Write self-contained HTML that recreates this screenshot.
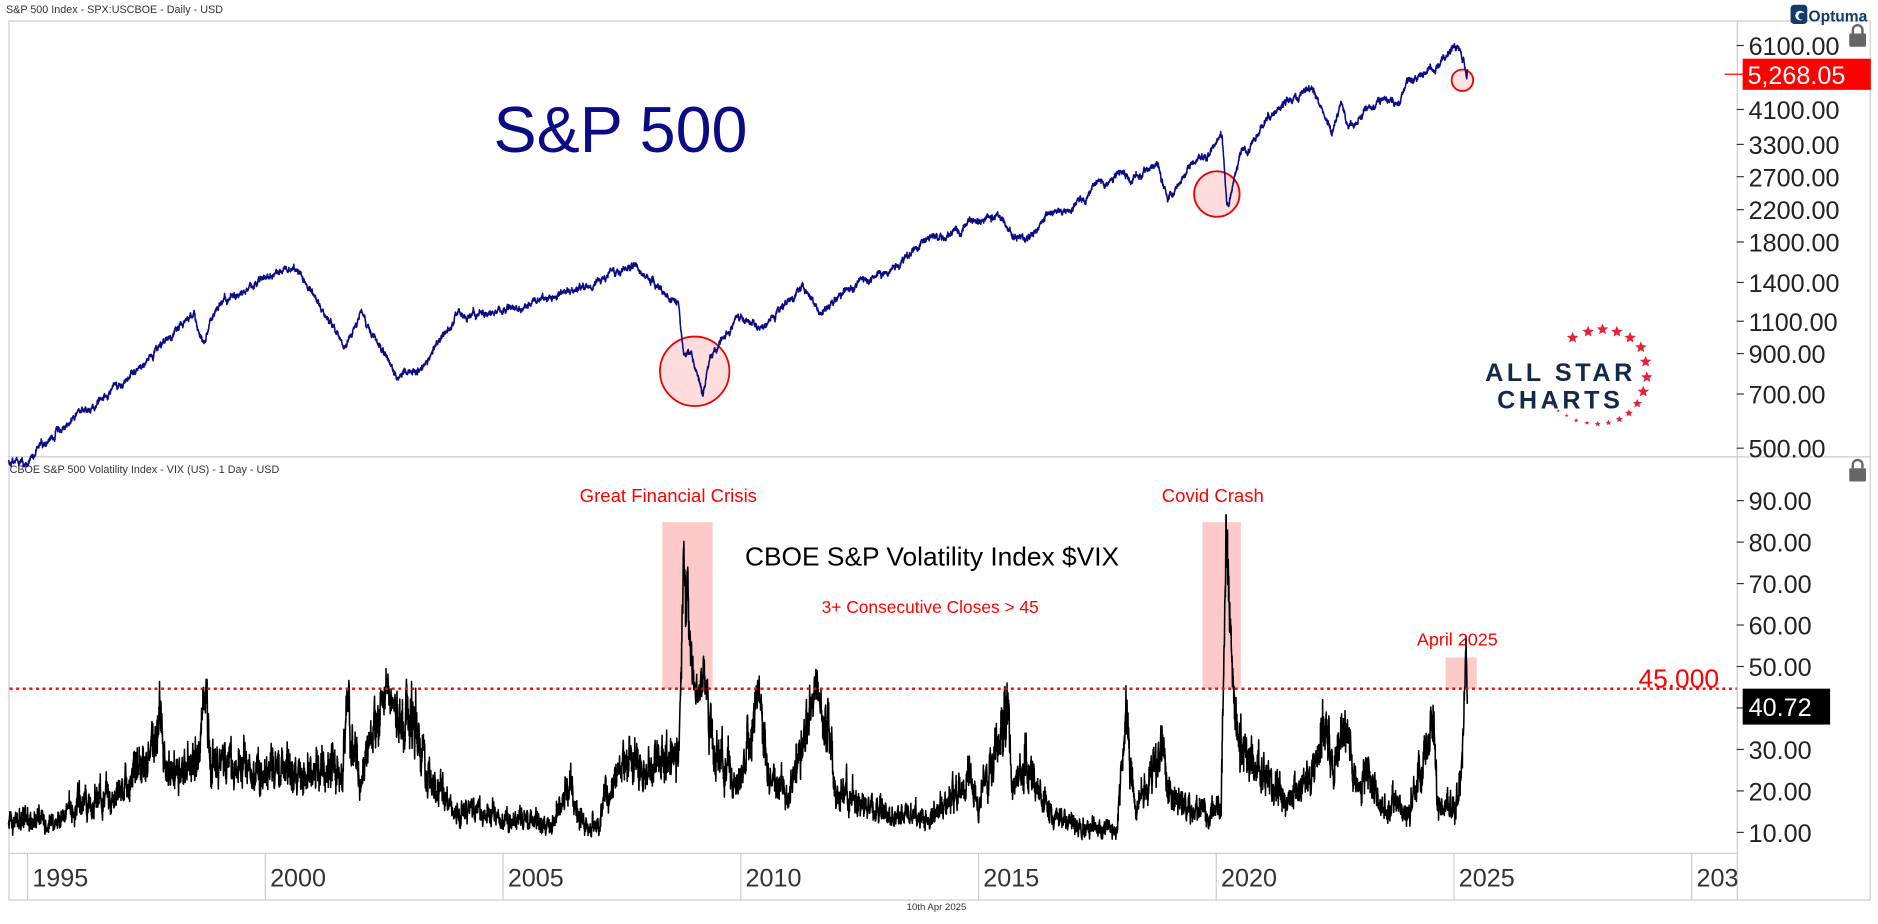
<!DOCTYPE html>
<html><head><meta charset="utf-8"><style>
html,body{margin:0;padding:0;background:#fff;}
svg{display:block;}
text{font-family:"Liberation Sans",sans-serif;}
</style></head><body>
<svg id="s" width="1878" height="924" viewBox="0 0 1568 771.5" preserveAspectRatio="none" xmlns="http://www.w3.org/2000/svg">
<rect width="1568" height="772" fill="#fff"/>
<rect x="7.5" y="17.5" width="1554" height="734" fill="none" stroke="#ccc" stroke-width="1"/>
<line x1="7" y1="381.5" x2="1562" y2="381.5" stroke="#ccc"/>
<line x1="1450.5" y1="18" x2="1450.5" y2="752" stroke="#ccc"/>
<line x1="7" y1="712.5" x2="1450" y2="712.5" stroke="#ccc"/>
<text x="5" y="11" font-size="9" fill="#333">S&amp;P 500 Index - SPX:USCBOE - Daily - USD</text>
<text x="8" y="395" font-size="9" fill="#333">CBOE S&amp;P 500 Volatility Index - VIX (US) - 1 Day - USD</text>
<text x="757" y="760" font-size="8" fill="#333">10th Apr 2025</text>
<rect x="1495" y="4" width="14" height="16" rx="3" fill="#123a6b"/>
<circle cx="1503" cy="13" r="4" fill="#fff"/><circle cx="1504.5" cy="13.5" r="3" fill="#123a6b"/>
<text x="1510" y="18" font-size="13" font-weight="bold" fill="#123a6b">Optuma</text>
<g fill="#666"><rect x="1544" y="28" width="14" height="11" rx="1"/><path d="M1547 28v-3a4 4 0 0 1 8 0v3" fill="none" stroke="#666" stroke-width="2"/>
<rect x="1544" y="391" width="14" height="11" rx="1"/><path d="M1547 391v-3a4 4 0 0 1 8 0v3" fill="none" stroke="#666" stroke-width="2"/></g>
<g id="xg" stroke="#ccc"></g>
<g id="xl" font-size="21" fill="#333"></g>
<g id="ya" font-size="21" fill="#222"></g>
<circle cx="580" cy="310" r="29" fill="rgba(255,120,120,0.25)" stroke="#e00" stroke-width="1.5"/>
<circle cx="1016" cy="162" r="19" fill="rgba(255,120,120,0.25)" stroke="#e00" stroke-width="1.5"/>
<circle cx="1221" cy="67" r="9" fill="rgba(255,120,120,0.2)" stroke="#e00" stroke-width="1.5"/>
<rect x="553" y="436" width="42" height="139" fill="rgba(250,120,120,0.4)"/>
<rect x="1004" y="436" width="32" height="139" fill="rgba(250,120,120,0.4)"/>
<rect x="1207" y="549" width="26" height="26" fill="rgba(250,120,120,0.4)"/>
<path id="spx" fill="none" stroke="#0b0b85" stroke-width="1.3" stroke-linejoin="round"/>
<path id="vix" fill="none" stroke="#000" stroke-width="1.3" stroke-linejoin="round"/>
<line x1="8" y1="575" x2="1450" y2="575" stroke="#f00" stroke-width="2" stroke-dasharray="2.5,3"/>
<text x="412" y="127" font-size="54" fill="#0b0b85">S&amp;P 500</text>
<text x="484" y="419" font-size="15.5" fill="#f00">Great Financial Crisis</text>
<text x="970" y="419" font-size="15.5" fill="#f00">Covid Crash</text>
<text x="1183" y="539" font-size="15" fill="#f00">April 2025</text>
<text x="622" y="472" font-size="22" fill="#000">CBOE S&amp;P Volatility Index $VIX</text>
<text x="686" y="512" font-size="14.5" fill="#f00">3+ Consecutive Closes &gt; 45</text>
<text x="1368" y="574" font-size="22" fill="#f00">45.000</text>
<line x1="1440" y1="62" x2="1456" y2="62" stroke="#f00"/>
<rect x="1455" y="49" width="107" height="26" fill="#f00"/>
<text x="1459" y="70" font-size="21" fill="#fff">5,268.05</text>
<rect x="1455" y="575" width="73" height="30" fill="#000"/>
<text x="1460" y="598" font-size="21" fill="#fff">40.72</text>
<text x="1240" y="318" font-size="21" font-weight="bold" fill="#14284b" letter-spacing="3">ALL STAR</text>
<text x="1250" y="341" font-size="21" font-weight="bold" fill="#14284b" letter-spacing="3">CHARTS</text>
<g id="stars" fill="#e8213b"></g>
</svg>
<script>
var NS="http://www.w3.org/2000/svg";
function X(t){return 23+(t-1995)*39.7;}
function YS(v){return 38+(Math.log(6100)-Math.log(v))*134.4;}
function YV(v){return 695-(v-10)*3.4625;}
function el(p,tag,a,txt){var e=document.createElementNS(NS,tag);for(var k in a)e.setAttribute(k,a[k]);if(txt)e.textContent=txt;document.getElementById(p).appendChild(e);return e;}
[1995,2000,2005,2010,2015,2020,2025,2030].forEach(function(y){var x=X(y);el("xg","line",{x1:x,y1:712,x2:x,y2:752});
el("xl","text",{x:x+4,y:740},y==2030?"203":String(y));});
[6100,4100,3300,2700,2200,1800,1400,1100,900,700,500].forEach(function(v){var y=YS(v);
el("ya","line",{x1:1450,y1:y,x2:1456,y2:y,stroke:"#333"});el("ya","text",{x:1460,y:y+8},v.toFixed(2));});
for(var v=10;v<=90;v+=10){var y=YV(v);el("ya","line",{x1:1450,y1:y,x2:1456,y2:y,stroke:"#333"});el("ya","text",{x:1460,y:y+8},v.toFixed(2));}
var sp=[[1313,282,5],[1326,277,5],[1338,275,5],[1350,277,5],[1361,282,5],[1370,290,5],[1374,302,5],[1375,315,5],[1372,327,5],[1367,337,4],[1360,345,3.5],[1352,350,3],[1343,353,2.5],[1334,354,2.5],[1325,353,2],[1316,351,2],[1308,347,1.6],[1301,343,1.5],[1296,338,1.3]];
sp.forEach(function(s){var d="";for(var i=0;i<10;i++){var r=i%2?s[2]*0.45:s[2];var a=-Math.PI/2+i*Math.PI/5;d+=(i?"L":"M")+(s[0]+r*Math.cos(a)).toFixed(1)+" "+(s[1]+r*Math.sin(a)).toFixed(1);}el("stars","path",{d:d+"Z"});});
var seed=12345;function rnd(){seed=(seed*1103515245+12345)%2147483648;return seed/2147483648;}
function g(){return (rnd()+rnd()+rnd()+rnd()-2)*1.7;}
var S=[[1994.6,455],[1995,465],[1996,610],[1997,740],[1997.8,950],[1998.5,1150],[1998.7,960],[1999,1230],[1999.6,1350],[2000.2,1520],[2000.7,1500],[2001.2,1180],[2001.7,960],[2002,1150],[2002.5,900],[2002.8,790],[2003.2,820],[2004,1130],[2005,1190],[2006,1270],[2007,1430],[2007.8,1560],[2008.5,1250],[2008.7,1200],[2008.8,880],[2008.95,900],[2009.2,690],[2009.35,900],[2009.5,950],[2010,1120],[2010.4,1050],[2011.3,1360],[2011.7,1130],[2012,1300],[2013,1480],[2014,1840],[2015.4,2120],[2015.7,1890],[2016.1,1860],[2016.5,2150],[2017,2280],[2018.05,2850],[2018.2,2620],[2018.75,2930],[2018.98,2380],[2019.5,2950],[2020.12,3380],[2020.22,2240],[2020.5,3100],[2020.9,3600],[2021,3750],[2021.95,4780],[2022.45,3700],[2022.62,4280],[2022.78,3580],[2023,3850],[2023.5,4450],[2023.82,4120],[2024,4770],[2024.5,5450],[2024.6,5250],[2024.9,5950],[2025.13,6120],[2025.2,5650],[2025.27,4980],[2025.28,5268]];
var V=[[1994.6,12],[1995,12.5],[1995.6,12],[1996,16],[1997,20],[1997.8,36],[1997.9,26],[1998,24],[1998.6,28],[1998.7,45],[1998.85,30],[1999,26],[2000,24],[2001,25],[2001.65,26],[2001.72,43],[2001.85,28],[2002,24],[2002.55,45],[2002.8,38],[2003.2,33],[2003.5,22],[2004,16],[2005,13],[2006,12],[2006.42,22],[2006.6,13],[2007,11],[2007.16,19],[2007.6,28],[2008,25],[2008.7,32],[2008.76,55],[2008.8,80],[2008.84,62],[2008.88,74],[2008.93,55],[2009.05,45],[2009.2,47],[2009.35,38],[2009.5,28],[2010,22],[2010.38,45],[2010.6,25],[2011,18],[2011.6,47],[2011.8,35],[2012,20],[2013,15],[2014,13],[2014.8,24],[2015,16],[2015.63,40],[2015.7,22],[2016,25],[2016.5,14],[2017,12],[2017.9,10],[2018.1,37],[2018.3,16],[2018.9,30],[2019,18],[2020.1,14],[2020.21,82],[2020.4,35],[2020.7,26],[2021,25],[2021.5,17],[2022,25],[2022.2,35],[2022.5,28],[2022.8,32],[2023,21],[2023.2,26],[2023.5,14],[2023.8,18],[2024,13],[2024.58,38],[2024.64,16],[2025,17],[2025.15,22],[2025.255,52],[2025.28,41]];
function interp(A,t,lg){for(var i=1;i<A.length;i++){if(t<=A[i][0]){var a=A[i-1],b=A[i],f=(t-a[0])/(b[0]-a[0]);return lg?Math.exp(Math.log(a[1])+f*(Math.log(b[1])-Math.log(a[1]))):a[1]+f*(b[1]-a[1]);}}return A[A.length-1][1];}
var ds="",dv="",n=0,m=0,dt=0.004;
for(var t=1994.6;t<=2025.28;t+=dt){n=0.95*n+0.006*g();m=0.8*m+0.06*g();
var end=t>2025.27;var s=interp(S,t,1)*(end?1:Math.exp(n+0.005*g()));
var b=interp(V,t,0);var amp=b>40?0.5:1;var v=b*(end?1:Math.exp(amp*(m+0.06*g())));
if(b<44&&v>47)v=47-rnd()*2;
ds+=(ds?"L":"M")+X(t).toFixed(1)+" "+YS(s).toFixed(1);dv+=(dv?"L":"M")+X(t).toFixed(1)+" "+YV(v).toFixed(1);}
document.getElementById("spx").setAttribute("d",ds);document.getElementById("vix").setAttribute("d",dv);
</script>
</body></html>
